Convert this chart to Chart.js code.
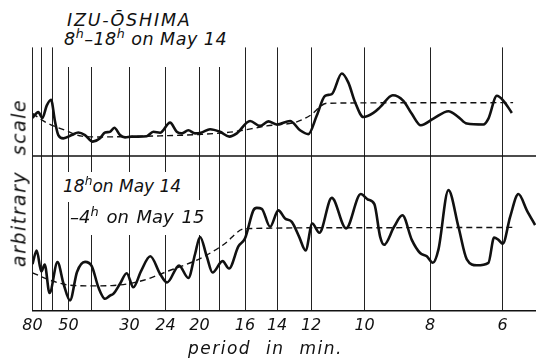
<!DOCTYPE html>
<html>
<head>
<meta charset="utf-8">
<script src="https://cdn.jsdelivr.net/npm/chart.js@4"></script>
<style>
  html, body { margin: 0; padding: 0; background: #fff; }
  #wrap { position: relative; width: 536px; height: 359px; overflow: hidden; }
  #c { position: absolute; left: 0; top: 0; }
  .txt { position: absolute; font-family: "DejaVu Sans", sans-serif; font-style: italic; color: #111; white-space: nowrap; background: #fff; }
  .txt sup { font-size: 0.72em; vertical-align: baseline; position: relative; top: -0.55em; }
</style>
</head>
<body>
<div id="wrap">
  <canvas id="c" width="536" height="359"></canvas>
  <div class="txt" style="left:60px;top:5px;width:172px;height:62px;"></div>
  <div class="txt" style="left:67px;top:10px;font-size:17.5px;line-height:20px;letter-spacing:1.8px;">IZU-ŌSHIMA</div>
  <div class="txt" style="left:64px;top:29px;font-size:17.5px;line-height:20px;letter-spacing:0.5px;">8<sup>h</sup>–18<sup>h</sup> on May 14</div>
  <div class="txt" style="left:63px;top:172px;font-size:17px;line-height:28px;padding-right:6px;">18<sup>h</sup>on May 14</div>
  <div class="txt" style="left:70px;top:200px;font-size:18px;line-height:33px;word-spacing:2px;padding-right:3px;">–4<sup>h</sup> on May 15</div>
  <div class="txt" style="left:19px;top:183px;font-size:19px;line-height:19px;letter-spacing:1.5px;word-spacing:8px;background:none;transform:translate(-50%,-50%) rotate(-90deg);">arbitrary scale</div>
  <div class="txt" style="left:188px;top:338px;font-size:17px;line-height:20px;letter-spacing:1.5px;word-spacing:8px;background:none;">period in min.</div>
</div>
<script>
"use strict";

// x axis: position along the (non-linear) period axis, 0 = 80 min line, 100 = 6 min line
const X_MAX = 107.1;
const TICK_PERIODS = [80, 70, 60, 50, 40, 30, 24, 20, 18, 16, 14, 12, 10, 8, 6];
const TICK_POS = [0, 1.81, 4.26, 7.66, 12.55, 20.64, 28.3, 35.53, 39.79, 45.21, 52.02, 59.26, 70.64, 84.57, 100];
const LABELED = [80, 50, 30, 24, 20, 16, 14, 12, 10, 8, 6];

// upper panel (8h-18h on May 14), baseline at 100
const TOP_BASE = 100;
const TOP_CURVE = [
  [0, 124.7], [1.23, 128.3], [2.09, 124.5], [3.02, 132.5], [3.94, 136.3], [4.79, 122.2], [5.49, 113.5],
  [6.55, 111.4], [8.34, 113.5], [9.74, 115.2], [11.17, 113.5], [12.81, 109.3], [14.36, 111.4], [15.43, 115.2],
  [16.49, 115.6], [17.4, 118.2], [18.62, 113.5], [19.68, 112.0], [21.11, 112.5], [22.51, 112.5], [24.3, 112.8],
  [25.7, 115.6], [27.13, 115.0], [29.26, 121.5], [30.68, 115.6], [31.74, 114.6], [33.15, 116.6], [34.57, 114.6],
  [36.0, 115.2], [37.77, 117.3], [39.89, 115.6], [41.87, 112.5], [43.45, 114.6], [46.28, 122.6], [48.4, 119.4],
  [50.17, 122.3], [51.96, 120.3], [54.79, 122.6], [56.91, 116.6], [58.68, 114.1], [60.47, 126.1], [62.23, 138.8],
  [63.66, 139.9], [65.79, 153.2], [67.19, 147.3], [68.62, 134.6], [70.38, 125.1], [72.51, 127.8], [73.94, 131.5],
  [76.64, 139.2], [78.89, 135.6], [80.68, 127.2], [82.6, 119.8], [85.28, 124.1], [88.47, 128.9], [90.6, 125.1],
  [92.38, 120.9], [95.91, 120.3], [96.98, 124.1], [98.77, 138.8], [100.17, 135.6], [101.96, 127.8],
];
const TOP_TREND = [
  [0, 127.5], [2.66, 122.0], [6.91, 116.6], [10.47, 112.8], [14.36, 112.3], [19.68, 112.5], [27.13, 113.0],
  [35.64, 113.9], [42.66, 115.6], [49.83, 119.4], [56.21, 122.0], [59.04, 126.1], [62.6, 134.0], [80, 134.3],
  [102.23, 134.4],
];

// lower panel (18h on May 14 - 4h on May 15), baseline at 0
const BOTTOM_CURVE = [
  [0, 30.4], [0.89, 39.1], [1.87, 25.6], [2.6, 30.1], [3.62, 11.7], [5.32, 31.6], [6.6, 17.7], [7.98, 7.0],
  [9.47, 25.3], [11.17, 31.8], [12.6, 29.1], [14.04, 15.2], [15.43, 8.0], [16.49, 10.1], [17.19, 11.2],
  [18.62, 17.7], [20.04, 24.5], [21.45, 15.4], [23.09, 25.9], [25.06, 35.4], [27.13, 24.1], [28.62, 18.5],
  [31.17, 29.4], [33.15, 21.4], [34.57, 36.7], [35.64, 47.8], [37.06, 35.4], [38.3, 24.9], [40.43, 32.3],
  [41.81, 27.5], [43.79, 41.8], [45.21, 47.0], [46.98, 65.0], [47.7, 66.6], [48.77, 66.0], [50.53, 54.4],
  [52.3, 65.0], [53.72, 59.7], [55.15, 57.6], [56.7, 48.1], [58.09, 39.2], [59.51, 56.5], [61.02, 50.6],
  [63.66, 73.0], [66.7, 53.4], [69.83, 75.5], [71.32, 72.0], [72.72, 69.0], [73.94, 48.1], [74.79, 42.8],
  [76.91, 54.4], [78.68, 61.8], [80.68, 46.0], [82.45, 37.5], [83.87, 35.4], [85.15, 31.2], [86.34, 39.7],
  [88.47, 78.0], [90.6, 54.4], [92.38, 33.4], [94.51, 29.6], [96.98, 31.2], [98.19, 47.5], [99.11, 46.0],
  [100.04, 43.5], [101.6, 60.8], [103.36, 75.5], [105.15, 65.0], [106.91, 55.5],
];
const BOTTOM_TREND = [
  [0, 24.7], [4.09, 19.6], [7.62, 16.9], [12.23, 16.3], [16.85, 16.5], [23.23, 19.6], [28.89, 25.9],
  [35.64, 33.9], [40.6, 42.8], [45.21, 53.2], [70, 53.8], [102.23, 54.0],
];

const INK = "#111";
const pts = (arr) => arr.map(([x, y]) => ({ x, y }));

const solid = (data) => ({
  data: pts(data), borderColor: INK, borderWidth: 2.6, pointRadius: 0,
  cubicInterpolationMode: "monotone", fill: false,
});
const dashed = (data) => ({
  data: pts(data), borderColor: INK, borderWidth: 1.4, borderDash: [6, 4], pointRadius: 0,
  cubicInterpolationMode: "monotone", fill: false,
});

new Chart(document.getElementById("c"), {
  type: "line",
  data: {
    datasets: [
      { data: [{ x: 0, y: TOP_BASE }, { x: X_MAX, y: TOP_BASE }], borderColor: INK, borderWidth: 1.3, pointRadius: 0 },
      dashed(TOP_TREND),
      dashed(BOTTOM_TREND),
      solid(TOP_CURVE),
      solid(BOTTOM_CURVE),
    ],
  },
  options: {
    responsive: false,
    animation: false,
    layout: { padding: { left: 32.5, top: 47.4, right: 0, bottom: 18.6 } },
    plugins: { legend: { display: false }, tooltip: { enabled: false } },
    scales: {
      x: {
        type: "linear", min: 0, max: X_MAX,
        afterBuildTicks: (scale) => { scale.ticks = TICK_POS.map((v) => ({ value: v })); },
        ticks: {
          autoSkip: false, maxRotation: 0, padding: 5, color: INK,
          font: { family: "'DejaVu Sans'", size: 16, style: "italic" },
          callback: (v) => {
            const i = TICK_POS.indexOf(v);
            const p = TICK_PERIODS[i];
            return LABELED.includes(p) ? String(p) : "";
          },
        },
        grid: { color: "#222", lineWidth: 1, drawTicks: false },
        border: { display: true, color: INK, width: 1.5 },
      },
      y: { display: false, min: 0, max: 170 },
    },
  },
});
</script>
</body>
</html>
